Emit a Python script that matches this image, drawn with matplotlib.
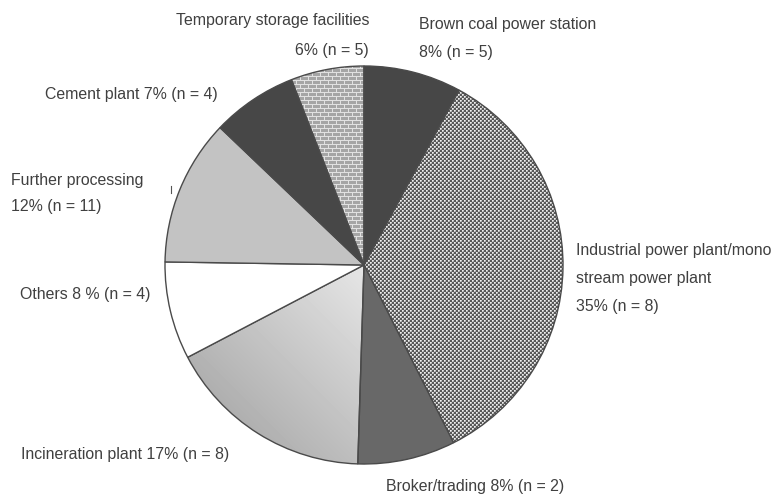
import numpy as np
import matplotlib
matplotlib.use("Agg")
import matplotlib.pyplot as plt
from matplotlib import font_manager

# Shares of delivered material by destination (percent of responses) and counts
categories = [
    "Brown coal power station",
    "Industrial power plant/mono stream power plant",
    "Broker/trading",
    "Incineration plant",
    "Others",
    "Further processing",
    "Cement plant",
    "Temporary storage facilities",
]
percents = [8, 35, 8, 17, 8, 12, 7, 6]
counts = [5, 8, 2, 8, 4, 11, 4, 5]

# Label layouts (lines of text per slice)
label_templates = [
    ["Brown coal power station", "{p}% (n = {n})"],
    ["Industrial power plant/mono", "stream power plant", "{p}% (n = {n})"],
    ["Broker/trading {p}% (n = {n})"],
    ["Incineration plant {p}% (n = {n})"],
    ["Others {p} % (n = {n})"],
    ["Further processing", "{p}% (n = {n})"],
    ["Cement plant {p}% (n = {n})"],
    ["Temporary storage facilities", "{p}% (n = {n})"],
]

W, H = 773, 496
fig = plt.figure(figsize=(W / 100, H / 100), dpi=100)
ax = fig.add_axes([0, 0, 1, 1])

names = {f.name for f in font_manager.fontManager.ttflist}
if "Liberation Sans Narrow" in names:
    fam, fsize = "Liberation Sans Narrow", 12.4
else:
    fam, fsize = "Liberation Sans", 11.4
text_color = "#404040"

cx, cy, r = 364, H - 265, 199
solid = ["#474747", "none", "#686868", "none", "#ffffff", "#c3c3c3", "#474747", "none"]
wedges, _ = ax.pie(percents, colors=solid, startangle=90, counterclock=False,
                   center=(cx, cy), radius=r,
                   wedgeprops=dict(edgecolor="#4a4a4a", linewidth=1.0))
for w in wedges:
    w.set_zorder(2)

yy, xx = np.mgrid[0:H, 0:W]

# dotted checker texture
tile = np.array([[238, 205, 88, 88],
                 [205, 160, 88, 88],
                 [88, 88, 238, 205],
                 [88, 88, 205, 160]], dtype=float)
checker = tile[yy % 4, xx % 4]

# brick texture
row = yy // 4
shift = (row % 2) * 4
brick = np.full((H, W), 165.0)
brick[(yy % 4) == 0] = 225
brick[((xx + shift) % 8) == 0] = 225

# diagonal shading, light towards the centre, darker to the lower left
grad = 165 + (230 - 165) * (1 - np.clip(((yy - (H - cy)) + (cx - xx)) / 330.0, 0, 1))

for idx, arr in [(1, checker), (3, grad), (7, brick)]:
    im = ax.imshow(arr, cmap="gray", vmin=0, vmax=255, extent=(0, W, 0, H),
                   origin="upper", interpolation="nearest", zorder=1)
    im.set_clip_path(wedges[idx])

# label anchors: (x, ha, first-line y from top, line spacing)
anchors = [
    (419, "left", 24, 28),
    (576, "left", 251, 28),
    (386, "left", 486, 28),
    (21, "left", 455, 28),
    (20, "left", 295, 28),
    (11, "left", 180, 27),
    (45, "left", 94, 28),
    (369, "right", 21, 29),
]
for tmpl, p, n, (x, ha, y0, dy) in zip(label_templates, percents, counts, anchors):
    for k, line in enumerate(tmpl):
        ax.text(x, H - (y0 + k * dy), line.format(p=p, n=n), ha=ha, va="center",
                fontsize=fsize, family=fam, color=text_color)

ax.plot([171, 171], [H - 186, H - 193], color="#555555", linewidth=0.8)

ax.set_xlim(0, W)
ax.set_ylim(0, H)
ax.set_aspect("auto")
ax.axis("off")
fig.savefig("out.png", dpi=100)
